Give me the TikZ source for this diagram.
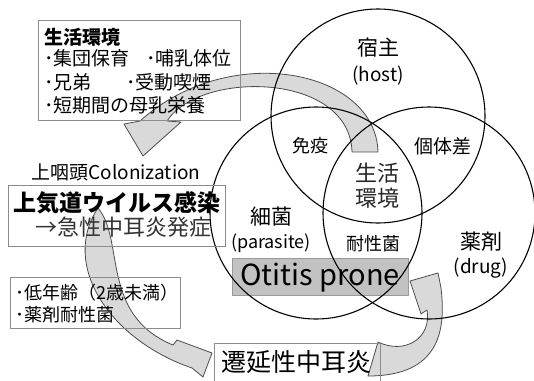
\documentclass[tikz,border=0pt]{standalone}
\usepackage{fontspec}
\setmainfont{Noto Sans CJK JP}
\newcommand{\fsz}[1]{\fontsize{#1}{#1}\selectfont}
\begin{document}
\begin{tikzpicture}[x=1pt,y=-1pt,
  box/.style={draw=black!45, line width=0.8pt},
  circ/.style={draw=black, line width=1.1pt},
  arr/.style={draw=black!70, fill=black!15, line width=0.8pt, line join=round},
  lbl/.style={inner sep=0pt, text=black}]
\useasboundingbox (0,0) rectangle (534,380);
% Otitis prone background
\fill[black!24] (232,258) rectangle (408,295);
\draw[black!40, line width=0.6pt] (232,258) rectangle (408,295);
% arrows
\draw[arr] (378,152) .. controls (376,70) and (230,40) .. (140,121) -- (124,124) -- (143,156) -- (181,122) -- (167,121) .. controls (200,70) and (350,72) .. (352,152) -- cycle;
\draw[arr] (98,208) .. controls (125,240) and (100,315) .. (173,345) -- (177,340) -- (212,353) -- (203,377) -- (192,368) .. controls (110,340) and (60,265) .. (98,208) -- cycle;
\draw[arr] (378,342) .. controls (405,355) and (432,338) .. (427,310) -- (421,314) -- (410,281) -- (438,273) -- (441,288) .. controls (446,330) and (440,376) .. (368,376) -- cycle;
% circles
\node[circ, circle, minimum size=214pt, inner sep=0pt] (host) at (378,116) {};
\node[circ, circle, minimum size=212pt, inner sep=0pt] (bact) at (316,213) {};
\node[circ, circle, minimum size=212pt, inner sep=0pt] (drug) at (429,213) {};
% boxes
\draw[box] (38,20) rectangle (240,120);
\draw[box] (8,185) rectangle (225,246);
\draw[box] (10,277) rectangle (180,328);
\draw[box] (214,343) rectangle (380,386);
% left texts
\node[lbl, anchor=west, font=\fsz{19}\bfseries] (env) at (44,37) {生活環境};
\node[lbl, anchor=west, font=\fsz{19}] (e1) at (44,58) {･集団保育};
\node[lbl, anchor=west, font=\fsz{19}] (e2) at (146,58) {･哺乳体位};
\node[lbl, anchor=west, font=\fsz{19}] (e3) at (44,82) {･兄弟};
\node[lbl, anchor=west, font=\fsz{19}] (e4) at (126,82) {･受動喫煙};
\node[lbl, anchor=west, font=\fsz{19}] (e5) at (44,105) {･短期間の母乳栄養};
\node[lbl, font=\fsz{19}] (col) at (116,172) {上咽頭Colonization};
\node[lbl, anchor=west, font=\fsz{23}\bfseries] (uri) at (13,203) {上気道ウイルス感染};
\node[lbl, anchor=west, font=\fsz{22}, text=black!80] (aom) at (35,227) {→急性中耳炎発症};
\node[lbl, anchor=west, font=\fsz{18}] (r1) at (15,293) {･低年齢（2歳未満）};
\node[lbl, anchor=west, font=\fsz{18}] (r2) at (15,315) {･薬剤耐性菌};
% circle texts
\node[lbl, font=\fsz{21}] (t1) at (378,48) {宿主};
\node[lbl, font=\fsz{19}] (t2) at (378,76) {(host)};
\node[lbl, font=\fsz{18}] (t3) at (310,146) {免疫};
\node[lbl, font=\fsz{19}] (t4) at (443,146) {個体差};
\node[lbl, font=\fsz{22}, text=black!85] (t5) at (377,173) {生活};
\node[lbl, font=\fsz{22}, text=black!85] (t6) at (377,198) {環境};
\node[lbl, font=\fsz{21}] (t7) at (271,217) {細菌};
\node[lbl, font=\fsz{18}] (t8) at (271,243) {(parasite)};
\node[lbl, font=\fsz{18}] (t9) at (373,244) {耐性菌};
\node[lbl, font=\fsz{21}] (t10) at (481,242) {薬剤};
\node[lbl, font=\fsz{19}] (t11) at (481,268) {(drug)};
\node[lbl, font=\fsz{29}] (op) at (320,278) {Otitis prone};
\node[lbl, font=\fsz{25}] (pro) at (296,362) {遷延性中耳炎};
\end{tikzpicture}
\end{document}
